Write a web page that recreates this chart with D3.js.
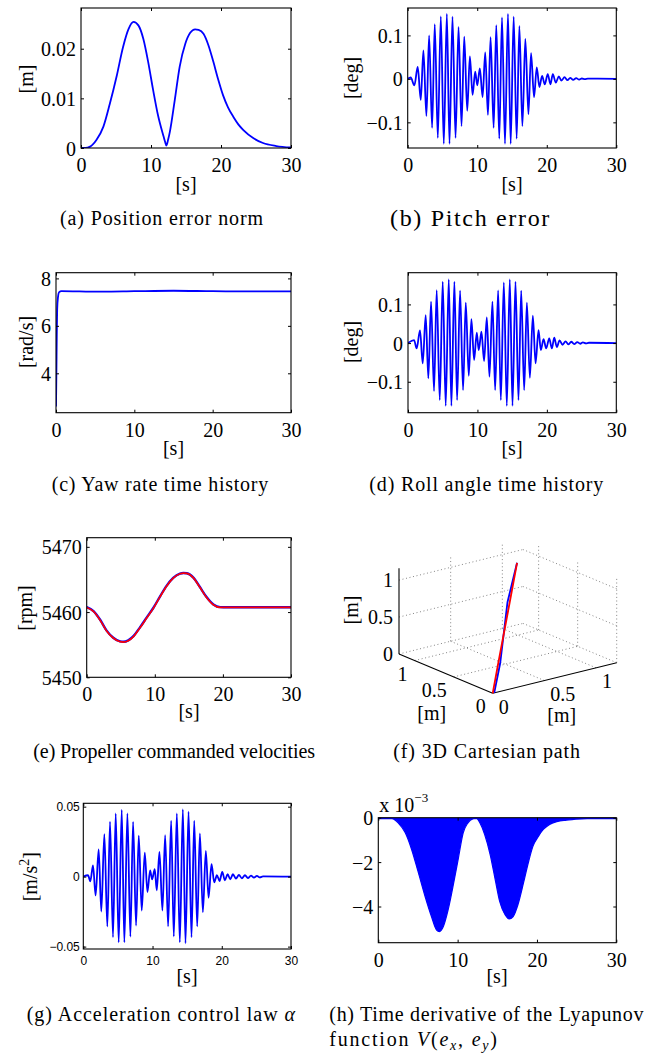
<!DOCTYPE html>
<html>
<head>
<meta charset="utf-8">
<script src="https://cdn.jsdelivr.net/npm/d3@7"></script>
<style>
  body { margin: 0; background: #fff; }
  svg { display: block; }
</style>
</head>
<body>
<script>
// ---------------- data ----------------
const timeTicks = [0, 10, 20, 30];

// (a) position error norm [m]
const posT = [0, 0.6, 1.3, 2.2, 3.2, 4.1, 5.1, 6.0, 6.8, 7.5, 8.2, 8.9, 9.6, 10.3, 11.0, 11.8, 12.0, 12.2, 12.45, 12.7, 13.4, 14.1, 14.9, 15.6, 16.3, 16.8, 17.5, 18.2, 18.9, 19.6, 20.3, 21.0, 21.8, 22.5, 23.2, 24.6, 26.0, 27.9, 30];
const posV = [0, 0, 0.00027, 0.0016, 0.0043, 0.0088, 0.0145, 0.0203, 0.0240, 0.0254, 0.0247, 0.0220, 0.0173, 0.0117, 0.0066, 0.0023, 0.0013, 0.0005, 0.0017, 0.0033, 0.0097, 0.0164, 0.0210, 0.0232, 0.0239, 0.0238, 0.0230, 0.0207, 0.0174, 0.0138, 0.0106, 0.0082, 0.0062, 0.0047, 0.0036, 0.0020, 0.0010, 0.0004, 0.0001];

// (b) pitch error [deg], extrema of the oscillation
const pitchT = [0, 0.43, 0.96, 1.44, 1.88, 2.26, 2.69, 3.08, 3.51, 3.89, 4.33, 4.76, 5.19, 5.63, 6.01, 6.44, 6.88, 7.31, 7.74, 8.13, 8.56, 8.94, 9.33, 9.71, 10.0, 10.38, 10.77, 11.15, 11.54, 11.92, 12.36, 12.74, 13.17, 13.56, 13.99, 14.42, 14.81, 15.24, 15.67, 16.06, 16.49, 16.92, 17.36, 17.74, 18.17, 18.56, 18.94, 19.33, 19.71, 20.14, 20.53, 20.87, 21.30, 21.73, 22.12, 22.55, 22.98, 23.37, 23.80, 24.23, 24.66, 25.05, 25.48, 25.91, 30];
const pitchV = [0, 0.0031, -0.0148, 0.0273, -0.0484, 0.0656, -0.0852, 0.1000, -0.1125, 0.1258, -0.1359, 0.1438, -0.1492, 0.1492, -0.1492, 0.1430, -0.1359, 0.1195, -0.1086, 0.0969, -0.0734, 0.0516, -0.0367, 0.0164, -0.0148, 0.0242, -0.0422, 0.0609, -0.0828, 0.0961, -0.1125, 0.1234, -0.1375, 0.1414, -0.1492, 0.1492, -0.1492, 0.1430, -0.1375, 0.1219, -0.1086, 0.0922, -0.0813, 0.0594, -0.0422, 0.0266, -0.0188, 0.0070, -0.0125, 0.0109, -0.0125, 0.0109, -0.0086, 0.0055, -0.0039, 0.0039, -0.0031, 0.0023, -0.0023, 0.0016, -0.0016, 0.0008, -0.0008, 0.0004, 0];

// (c) yaw rate [rad/s]
const yawT = [0, 0.05, 0.1, 0.15, 0.25, 0.4, 0.7, 3, 6, 10, 15, 20, 25, 30];
const yawV = [2.6, 4.0, 5.6, 6.7, 7.2, 7.42, 7.46, 7.45, 7.44, 7.46, 7.48, 7.46, 7.45, 7.45];

// (d) roll angle [deg], extrema of the oscillation
const rollT = [0, 0.87, 1.25, 1.73, 2.12, 2.55, 2.93, 3.32, 3.75, 4.13, 4.57, 5.00, 5.43, 5.87, 6.25, 6.68, 7.07, 7.50, 7.93, 8.32, 8.75, 9.13, 9.52, 9.90, 10.19, 10.58, 10.96, 11.35, 11.73, 12.16, 12.55, 12.98, 13.37, 13.80, 14.23, 14.66, 15.05, 15.48, 15.91, 16.30, 16.73, 17.12, 17.55, 17.98, 18.37, 18.80, 19.13, 19.52, 19.90, 20.34, 20.72, 21.06, 21.44, 21.83, 22.26, 22.69, 23.13, 23.51, 23.94, 24.38, 24.81, 25.19, 25.63, 26.06, 30];
const rollV = [0, 0.0078, -0.0138, 0.0328, -0.0526, 0.0724, -0.0914, 0.1069, -0.1241, 0.1371, -0.1474, 0.1586, -0.1621, 0.1647, -0.1621, 0.1586, -0.1474, 0.1353, -0.1216, 0.1043, -0.0845, 0.0621, -0.0440, 0.0267, -0.0181, 0.0293, -0.0466, 0.0664, -0.0871, 0.1069, -0.1216, 0.1362, -0.1474, 0.1569, -0.1621, 0.1647, -0.1621, 0.1586, -0.1474, 0.1353, -0.1216, 0.1043, -0.0897, 0.0707, -0.0526, 0.0336, -0.0181, 0.0103, -0.0138, 0.0121, -0.0138, 0.0138, -0.0103, 0.0069, -0.0043, 0.0043, -0.0034, 0.0034, -0.0026, 0.0026, -0.0017, 0.0017, -0.0009, 0.0009, 0];

// (e) propeller commanded velocities [rpm]
const propT = [0, 1.0, 2.0, 2.9, 3.9, 4.9, 5.4, 6.1, 6.9, 7.8, 8.8, 9.8, 10.8, 11.7, 12.7, 13.7, 14.2, 14.7, 15.7, 16.6, 17.6, 18.6, 19.6, 20.1, 25, 30];
const propRed = [5460.71, 5460.1, 5458.72, 5457.14, 5456.02, 5455.46, 5455.4, 5455.61, 5456.28, 5457.55, 5459.08, 5460.6, 5462.4, 5463.93, 5465.2, 5465.87, 5465.97, 5465.92, 5465.2, 5463.83, 5462.24, 5461.12, 5460.71, 5460.71, 5460.71, 5460.71];
const propBlue = [5460.76, 5460.15, 5458.78, 5457.2, 5456.07, 5455.5, 5455.44, 5455.66, 5456.34, 5457.62, 5459.15, 5460.66, 5462.45, 5463.98, 5465.24, 5465.9, 5466.0, 5465.95, 5465.24, 5463.88, 5462.3, 5461.17, 5460.75, 5460.74, 5460.74, 5460.74];

// (f) 3D path [m]: desired (red) and actual (blue)
const pathRed = [[0, 0, 0], [0.175, 0.186, 0.265], [0.529, 0.564, 0.8], [0.76, 0.81, 1.15]];
const pathBlue = [[0, 0.015, 0], [0.165, 0.197, 0.265], [0.545, 0.555, 0.8], [0.76, 0.81, 1.15]];
const planeTicks = [0, 0.5, 1];
const heightTicks = [0, 0.5, 1];

// (g) acceleration control law [m/s^2], extrema
const accT = [0, 0.68, 1.01, 1.40, 1.78, 2.22, 2.60, 3.04, 3.47, 3.86, 4.29, 4.68, 5.11, 5.55, 5.93, 6.37, 6.80, 7.19, 7.62, 8.01, 8.44, 8.88, 9.26, 9.65, 9.94, 10.32, 10.61, 11.00, 11.43, 11.82, 12.25, 12.69, 13.07, 13.51, 13.94, 14.38, 14.76, 15.20, 15.63, 16.02, 16.45, 16.84, 17.27, 17.70, 18.09, 18.52, 18.91, 19.30, 19.68, 20.07, 20.45, 20.84, 21.23, 21.61, 22.05, 22.48, 22.91, 23.35, 23.78, 24.22, 24.65, 25.08, 25.52, 25.95, 30];
const accV = [0, 0.0010, -0.0033, 0.0081, -0.0134, 0.0194, -0.0249, 0.0304, -0.0356, 0.0392, -0.0433, 0.0452, -0.0469, 0.0476, -0.0469, 0.0452, -0.0428, 0.0392, -0.0349, 0.0292, -0.0242, 0.0172, -0.0110, 0.0045, -0.0019, 0.0053, -0.0098, 0.0177, -0.0242, 0.0297, -0.0356, 0.0400, -0.0428, 0.0452, -0.0469, 0.0481, -0.0476, 0.0464, -0.0433, 0.0400, -0.0356, 0.0309, -0.0254, 0.0184, -0.0151, 0.0089, -0.0041, 0.0010, -0.0031, 0.0033, -0.0026, 0.0017, -0.0019, 0.0017, -0.0014, 0.0012, -0.0012, 0.0010, -0.0010, 0.0007, -0.0007, 0.0005, -0.0005, 0.0002, 0];

// (h) Lyapunov derivative, lower envelope [x 10^-3]
const lyapT = [0, 1.7, 2.5, 3.4, 4.2, 5.0, 5.9, 6.7, 7.35, 7.7, 8.2, 8.8, 9.5, 10.1, 10.7, 11.3, 12.0, 12.3, 12.8, 13.4, 14.1, 14.7, 15.3, 16.0, 16.5, 17.0, 17.6, 18.3, 18.9, 19.5, 20.2, 20.8, 21.6, 22.5, 23.7, 25.4, 27.1, 30];
const lyapV = [0, -0.03, -0.23, -0.68, -1.43, -2.41, -3.55, -4.45, -5.06, -5.13, -4.9, -4.15, -2.94, -1.81, -0.68, -0.23, -0.03, 0, -0.23, -0.75, -1.66, -2.72, -3.77, -4.38, -4.56, -4.45, -3.92, -2.94, -2.04, -1.28, -0.83, -0.53, -0.30, -0.18, -0.11, -0.05, -0.015, 0];

// ---------------- drawing ----------------
const W = 645, H = 1053;
const serif = "'Liberation Serif','Times New Roman',serif";
const sans = "'Liberation Sans',Arial,sans-serif";
const FS = 20;
const BLUE = "#0000ff", RED = "#ff0000";

const svg = d3.select("body").append("svg")
  .attr("width", W).attr("height", H)
  .style("background", "#fff");

let clipN = 0;

function panel(box, yDomain, yTicks, yLabels, small) {
  const x = d3.scaleLinear().domain([0, 30]).range([box.x0, box.x1]);
  const y = d3.scaleLinear().domain(yDomain).range([box.y1, box.y0]);
  const g = svg.append("g");
  const id = "clip" + (clipN++);
  svg.append("clipPath").attr("id", id).append("rect")
    .attr("x", box.x0).attr("y", box.y0)
    .attr("width", box.x1 - box.x0).attr("height", box.y1 - box.y0);
  const plot = g.append("g").attr("clip-path", "url(#" + id + ")");

  const font = small ? sans : serif;
  const fs = small ? 12 : FS;

  const bottom = g.append("g").attr("transform", "translate(0," + box.y1 + ")")
    .call(d3.axisBottom(x).tickValues(timeTicks).tickSizeInner(-3).tickSizeOuter(0).tickFormat(d3.format("d")));
  bottom.selectAll("text").attr("y", small ? 16 : 24).attr("dy", null);

  const left = g.append("g").attr("transform", "translate(" + box.x0 + ",0)")
    .call(d3.axisLeft(y).tickValues(yTicks).tickSizeInner(-3).tickSizeOuter(0).tickFormat((d, i) => yLabels[i]));
  left.selectAll("text").attr("x", small ? -3.5 : -5).attr("dy", "0.35em");

  g.append("g").attr("transform", "translate(0," + box.y0 + ")")
    .call(d3.axisTop(x).tickValues(timeTicks).tickSizeInner(-3).tickSizeOuter(0).tickFormat(""));
  g.append("g").attr("transform", "translate(" + box.x1 + ",0)")
    .call(d3.axisRight(y).tickValues(yTicks).tickSizeInner(-3).tickSizeOuter(0).tickFormat(""));

  g.selectAll(".domain").remove();
  g.selectAll(".tick line").attr("stroke", "#000");
  g.selectAll(".tick text").attr("font-family", font).attr("font-size", fs).attr("fill", "#000");

  return { x, y, g, plot, box };
}

function frame(p) {
  p.g.append("rect")
    .attr("x", p.box.x0).attr("y", p.box.y0)
    .attr("width", p.box.x1 - p.box.x0).attr("height", p.box.y1 - p.box.y0)
    .attr("fill", "none").attr("stroke", "#000").attr("stroke-width", 1.1);
}

function curve(p, ts, vs, color, width) {
  const line = d3.line()
    .x((d, i) => p.x(ts[i]))
    .y(d => p.y(d))
    .curve(d3.curveMonotoneX);
  p.plot.append("path")
    .attr("d", line(vs))
    .attr("fill", "none").attr("stroke", color)
    .attr("stroke-width", width).attr("stroke-linejoin", "round");
}

function txt(x, y, s, anchor) {
  return svg.append("text").attr("x", x).attr("y", y)
    .attr("font-family", serif).attr("font-size", FS)
    .attr("text-anchor", anchor || "middle").text(s);
}

// caption stretched to the width it has in the figure
function caption(x0, x1, y, s, size) {
  return svg.append("text").attr("x", x0).attr("y", y)
    .attr("font-family", serif).attr("font-size", size || FS)
    .attr("textLength", x1 - x0).attr("lengthAdjust", "spacing")
    .text(s);
}

function ylab(x, y, s) {
  return svg.append("text")
    .attr("transform", "translate(" + x + "," + y + ") rotate(-90)")
    .attr("font-family", serif).attr("font-size", FS)
    .attr("text-anchor", "middle").attr("dy", "0.33em").text(s);
}

// (a)
const pa = panel({ x0: 81, x1: 291, y0: 8, y1: 148 }, [0, 0.0282], [0, 0.01, 0.02], ["0", "0.01", "0.02"]);
curve(pa, posT, posV, BLUE, 1.8);
frame(pa);
ylab(26, 79, "[m]");
txt(186, 191, "[s]");
caption(60, 263, 224.6, "(a) Position error norm");

// (b)
const pb = panel({ x0: 407.7, x1: 616.3, y0: 8, y1: 148 }, [-0.159, 0.163], [-0.1, 0, 0.1], ["\u22120.1", "0", "0.1"]);
curve(pb, pitchT, pitchV, BLUE, 1.8);
frame(pb);
ylab(351.7, 78, "[deg]");
txt(512, 191, "[s]");
caption(390, 549.3, 225.5, "(b) Pitch error", 24);

// (c)
const pc = panel({ x0: 56, x1: 291, y0: 272.7, y1: 412.7 }, [2.34, 8.24], [4, 6, 8], ["4", "6", "8"]);
curve(pc, yawT, yawV, BLUE, 1.8);
frame(pc);
ylab(26, 342, "[rad/s]");
txt(173.5, 454.5, "[s]");
caption(51.7, 268.3, 490.6, "(c) Yaw rate time history");

// (d)
const pd = panel({ x0: 408, x1: 616.3, y0: 272.7, y1: 412.7 }, [-0.18, 0.182], [-0.1, 0, 0.1], ["\u22120.1", "0", "0.1"]);
curve(pd, rollT, rollV, BLUE, 1.8);
frame(pd);
ylab(351.7, 342, "[deg]");
txt(512, 454.5, "[s]");
caption(369.3, 603.3, 490.6, "(d) Roll angle time history");

// (e)
const pe = panel({ x0: 86.7, x1: 291, y0: 537.7, y1: 677.3 }, [5450, 5471.4], [5450, 5460, 5470], ["5450", "5460", "5470"]);
curve(pe, propT, propBlue, BLUE, 2.4);
curve(pe, propT, propRed, RED, 1.7);
frame(pe);
ylab(25, 608, "[rpm]");
txt(189, 717.7, "[s]");
caption(33.3, 315, 757.5, "(e) Propeller commanded velocities");

// (f) 3D cartesian path
(function () {
  const aMax = 1.2, bMax = 1.2, zMax = 1.16;
  const aS = d3.scaleLinear().domain([0, aMax]).range([0, 1]);
  const bS = d3.scaleLinear().domain([0, bMax]).range([0, 1]);
  const zS = d3.scaleLinear().domain([0, zMax]).range([0, 85.7]);
  const O = [492.7, 693.3];
  const LA = [399 - 492.7, 654 - 693.3];
  const LB = [616.7 - 492.7, 662.7 - 693.3];
  const proj = p => {
    const fa = aS(p[0]), fb = bS(p[1]);
    return [O[0] + fa * LA[0] + fb * LB[0], O[1] + fa * LA[1] + fb * LB[1] - zS(p[2])];
  };
  const g = svg.append("g");
  const seg = (p, q, dotted) => {
    const P = proj(p), Q = proj(q);
    const l = g.append("line").attr("x1", P[0]).attr("y1", P[1]).attr("x2", Q[0]).attr("y2", Q[1]);
    if (dotted) l.attr("stroke", "#777").attr("stroke-width", 0.9).attr("stroke-dasharray", "1,2.6");
    else l.attr("stroke", "#000").attr("stroke-width", 1.1);
  };
  // floor grid
  planeTicks.filter(v => v > 0).forEach(a => seg([a, 0, 0], [a, bMax, 0], true));
  planeTicks.filter(v => v > 0).forEach(b => seg([0, b, 0], [aMax, b, 0], true));
  // back wall a = aMax
  heightTicks.forEach(z => seg([aMax, 0, z], [aMax, bMax, z], true));
  planeTicks.filter(v => v > 0).forEach(b => seg([aMax, b, 0], [aMax, b, zMax], true));
  // back wall b = bMax
  heightTicks.forEach(z => seg([0, bMax, z], [aMax, bMax, z], true));
  planeTicks.forEach(a => seg([a, bMax, 0], [a, bMax, zMax], true));
  // axes
  seg([aMax, 0, 0], [aMax, 0, zMax], false);
  seg([0, 0, 0], [aMax, 0, 0], false);
  seg([0, 0, 0], [0, bMax, 0], false);

  const line3 = d3.line().x(d => proj(d)[0]).y(d => proj(d)[1]);
  g.append("path").attr("d", line3(pathBlue)).attr("fill", "none").attr("stroke", BLUE).attr("stroke-width", 1.8);
  g.append("path").attr("d", line3(pathRed)).attr("fill", "none").attr("stroke", RED).attr("stroke-width", 1.8);

  const fmt = v => v === 0.5 ? "0.5" : String(v);
  heightTicks.forEach(z => {
    const P = proj([aMax, 0, z]);
    txt(P[0] - 6, P[1], fmt(z), "end").attr("dy", "0.35em");
  });
  planeTicks.forEach(a => {
    const P = proj([a, 0, 0]);
    txt(P[0] - 7, P[1] + 20, fmt(a), "end");
  });
  planeTicks.forEach(b => {
    const P = proj([0, b, 0]);
    txt(P[0] + 6, P[1] + 20.5, fmt(b), "start");
  });
  txt(431.7, 720, "[m]");
  txt(561.7, 722, "[m]");
  ylab(351.7, 610, "[m]");
  caption(393.3, 580, 757.5, "(f) 3D Cartesian path");
})();

// (g)
const pg = panel({ x0: 83.3, x1: 291, y0: 803.3, y1: 949 }, [-0.0517, 0.0524], [-0.05, 0, 0.05], ["\u22120.05", "0", "0.05"], true);
curve(pg, accT, accV, BLUE, 1.8);
frame(pg);
(function () {
  const t = svg.append("text")
    .attr("transform", "translate(30,876.7) rotate(-90)")
    .attr("font-family", serif).attr("font-size", FS)
    .attr("text-anchor", "middle").attr("dy", "0.33em");
  t.append("tspan").text("[m/s");
  t.append("tspan").attr("font-size", 14).attr("dy", "-0.55em").text("2");
  t.append("tspan").attr("dy", "0.4em").text("]");
})();
txt(187, 983, "[s]");
(function () {
  const t = caption(26.7, 295, 1021.4, "(g) Acceleration control law ");
  t.append("tspan").attr("font-style", "italic").text("\u03b1");
})();

// (h)
const ph = panel({ x0: 378.3, x1: 616.3, y0: 817.7, y1: 942.7 }, [-5.63, 0], [-4, -2, 0], ["\u22124", "\u22122", "0"]);
(function () {
  const area = d3.area()
    .x((d, i) => ph.x(lyapT[i]))
    .y0(ph.y(0))
    .y1(d => ph.y(d))
    .curve(d3.curveMonotoneX);
  ph.plot.append("path").attr("d", area(lyapV)).attr("fill", BLUE);
  curve(ph, lyapT, lyapV, BLUE, 1.2);
  ph.plot.append("line").attr("x1", ph.x(0)).attr("x2", ph.x(30))
    .attr("y1", ph.y(0) + 0.8).attr("y2", ph.y(0) + 0.8)
    .attr("stroke", BLUE).attr("stroke-width", 1.6);
})();
frame(ph);
(function () {
  const t = txt(379.3, 811.7, "x 10", "start");
  t.append("tspan").attr("font-size", 13).attr("dy", "-0.75em").text("\u22123");
})();
txt(497, 983, "[s]");
caption(329.3, 643.5, 1021.4, "(h) Time derivative of the Lyapunov");
(function () {
  const t = caption(329.3, 497, 1046, "function ");
  t.append("tspan").attr("font-style", "italic").text("V");
  t.append("tspan").text("(");
  t.append("tspan").attr("font-style", "italic").text("e");
  t.append("tspan").attr("font-style", "italic").attr("font-size", 14).attr("dy", "0.3em").text("x");
  t.append("tspan").attr("dy", "-0.21em").text(", ");
  t.append("tspan").attr("font-style", "italic").text("e");
  t.append("tspan").attr("font-style", "italic").attr("font-size", 14).attr("dy", "0.3em").text("y");
  t.append("tspan").attr("dy", "-0.21em").text(")");
})();
</script>
</body>
</html>
